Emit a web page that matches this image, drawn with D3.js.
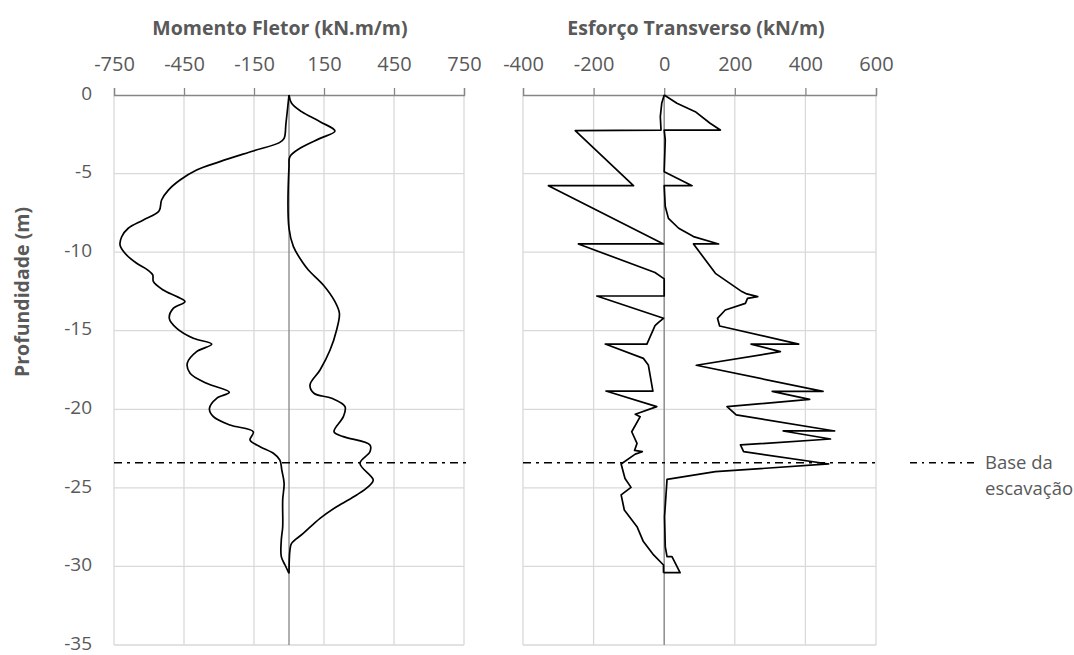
<!DOCTYPE html>
<html>
<head>
<meta charset="utf-8">
<script src="https://cdn.jsdelivr.net/npm/d3@7"></script>
<style>
  body { margin: 0; background: #fff; }
  text { font-family: "Open Sans", "Noto Sans", sans-serif; fill: #595959; }
</style>
</head>
<body>
<div id="chart"></div>
<script>
// depth ticks (m)
const depthTicks = [0, -5, -10, -15, -20, -25, -30, -35];
const momentTicks = [-750, -450, -150, 150, 450, 750];
const shearTicks = [-400, -200, 0, 200, 400, 600];
const baseDepth = -23.4;

// Momento fletor - envolvente minima
const mMinDepth = [0, -1.8, -2.76, -3.03, -3.56, -4.24, -4.77, -5.41, -6.05, -6.68, -7.38, -7.95, -8.48, -9.02, -9.55, -10.07, -10.71, -11.14, -11.45, -11.88, -12.41, -12.83, -13.15, -13.58, -14.21, -14.85, -15.48, -15.85, -16.33, -17.07, -17.71, -18.35, -18.92, -19.3, -19.94, -20.47, -21.0, -21.43, -21.95, -22.38, -22.8, -23.23, -23.86, -24.7, -25.77, -27.47, -28.32, -29.38, -29.91, -30.44];
const mMinValue = [0, -13, -21, -41, -153, -296, -396, -467, -517, -546, -557, -624, -689, -717, -724, -703, -653, -605, -584, -581, -539, -481, -446, -496, -513, -481, -410, -331, -396, -436, -424, -353, -256, -310, -341, -324, -253, -153, -167, -124, -67, -39, -31, -21, -27, -27, -33, -33, -17, 0];

// Momento fletor - envolvente maxima
const mMaxDepth = [0, -0.53, -1.06, -1.7, -2.29, -2.76, -3.39, -3.92, -4.56, -8.48, -9.65, -10.71, -11.14, -12.09, -13.15, -13.89, -14.95, -16.23, -17.5, -18.45, -18.98, -19.3, -19.83, -20.47, -21.43, -21.74, -22.27, -22.7, -23.44, -24.5, -24.92, -25.45, -26.2, -26.94, -27.9, -28.53, -28.96, -30.44];
const mMaxValue = [0, 11, 54, 133, 197, 133, 47, 4, 0, 0, 19, 61, 83, 147, 197, 216, 204, 176, 133, 90, 107, 183, 240, 233, 193, 233, 347, 347, 304, 361, 340, 290, 204, 133, 61, 11, 4, 0];

// Esforco transverso - envolvente minima
const vMinDepth = [0, -0.53, -1.38, -2.23, -2.27, -5.77, -5.77, -9.48, -9.48, -11.3, -11.7, -12.79, -12.79, -14.21, -14.47, -14.68, -15.85, -15.85, -16.76, -17.18, -18.84, -18.84, -19.83, -20.32, -20.47, -21.43, -22.17, -22.62, -22.7, -22.85, -23.48, -24.4, -24.97, -25.45, -26.41, -27.47, -28.42, -29.27, -29.91, -30.4];
const vMinValue = [0, -7, -11, -9, -252, -87, -328, -2, -243, -26, 0, 0, -191, -2, -16, -26, -49, -167, -59, -45, -32, -165, -21, -82, -68, -92, -77, -84, -62, -82, -122, -111, -94, -122, -113, -77, -59, -30, -2, -2];

// Esforco transverso - envolvente maxima
const vMaxDepth = [0, -0.53, -1.06, -1.8, -2.23, -2.23, -2.86, -4.88, -5.77, -5.77, -7.1, -7.85, -8.48, -9.01, -9.48, -9.48, -11.35, -12.51, -12.66, -12.83, -12.94, -13.26, -13.68, -14.21, -14.7, -15.85, -15.85, -16.33, -17.2, -18.86, -18.86, -19.37, -19.83, -20.36, -21.38, -21.38, -21.89, -22.27, -22.7, -23.48, -23.97, -24.46, -26.83, -28.74, -29.38, -29.38, -30.4, -30.4];
const vMaxValue = [0, 36, 88, 130, 159, 0, 3, 0, 79, 0, 3, 12, 41, 83, 154, 83, 145, 220, 234, 265, 236, 230, 173, 151, 157, 381, 246, 329, 91, 450, 306, 412, 178, 204, 483, 337, 471, 216, 225, 466, 145, 8, 1, 3, 8, 22, 45, -2];

const width = 1074, height = 655;
const plotTop = 95, plotBottom = 645;
const gridColor = "#d9d9d9", axisColor = "#868686";

const svg = d3.select("#chart").append("svg")
    .attr("width", width)
    .attr("height", height);

const y = d3.scaleLinear().domain([0, -35]).range([plotTop, plotBottom]);

const panels = [
    { title: "Momento Fletor (kN.m/m)", titleX: 280, domain: [-750, 750], range: [114, 464], ticks: momentTicks,
      series: [[mMinDepth, mMinValue], [mMaxDepth, mMaxValue]], curve: d3.curveCatmullRom.alpha(0.5) },
    { title: "Esforço Transverso (kN/m)", titleX: 696, domain: [-400, 600], range: [523, 876], ticks: shearTicks,
      series: [[vMinDepth, vMinValue], [vMaxDepth, vMaxValue]], curve: d3.curveLinear }
];

panels.forEach((p, i) => {
    const x = d3.scaleLinear().domain(p.domain).range(p.range);
    const g = svg.append("g");

    // grid
    g.append("g").selectAll("line")
        .data(depthTicks.slice(1))
        .enter().append("line")
        .attr("x1", p.range[0]).attr("x2", p.range[1])
        .attr("y1", d => y(d)).attr("y2", d => y(d))
        .attr("stroke", gridColor).attr("stroke-width", 1.3);
    g.append("g").selectAll("line")
        .data(p.ticks)
        .enter().append("line")
        .attr("x1", d => x(d)).attr("x2", d => x(d))
        .attr("y1", plotTop).attr("y2", plotBottom)
        .attr("stroke", gridColor).attr("stroke-width", 1.3);

    // vertical axis at zero
    g.append("line")
        .attr("x1", x(0)).attr("x2", x(0))
        .attr("y1", plotTop).attr("y2", plotBottom)
        .attr("stroke", axisColor).attr("stroke-width", 1.3);

    // top axis
    const axis = g.append("g")
        .attr("transform", `translate(0,${plotTop})`)
        .call(d3.axisTop(x).tickValues(p.ticks).tickSize(7).tickPadding(17).tickFormat(d => String(d)));
    axis.selectAll("path, line").attr("stroke", axisColor).attr("stroke-width", 1.3);
    axis.selectAll("text")
        .attr("fill", "#595959")
        .style("font-size", "20px")
        .style("font-family", '"Open Sans", sans-serif');

    // title
    g.append("text")
        .attr("x", p.titleX).attr("y", 35)
        .attr("text-anchor", "middle")
        .style("font-size", "19.5px")
        .style("font-weight", "bold")
        .text(p.title);

    // base da escavacao
    g.append("line")
        .attr("x1", p.range[0]).attr("x2", p.range[1] + 2)
        .attr("y1", y(baseDepth)).attr("y2", y(baseDepth))
        .attr("stroke", "#000").attr("stroke-width", 1.6)
        .attr("stroke-dasharray", "8,5,3,5");

    // curves
    const line = d3.line()
        .x(d => x(d[1]))
        .y(d => y(d[0]))
        .curve(p.curve);
    p.series.forEach(s => {
        g.append("path")
            .datum(d3.zip(s[0], s[1]))
            .attr("d", line)
            .attr("fill", "none")
            .attr("stroke", "#000")
            .attr("stroke-width", 1.7)
            .attr("stroke-linejoin", "round");
    });

    // depth labels on the left panel only
    if (i === 0) {
        const yAxis = svg.append("g")
            .attr("transform", `translate(${p.range[0]},0)`)
            .call(d3.axisLeft(y).tickValues(depthTicks).tickSize(0).tickPadding(22).tickFormat(d => String(d)));
        yAxis.select(".domain").remove();
        yAxis.selectAll("text")
            .attr("fill", "#595959")
            .attr("dy", "0.22em")
            .style("font-size", "19px")
            .style("font-family", '"Open Sans", sans-serif');
    }
});

// y axis title
svg.append("text")
    .attr("transform", "translate(29,292) rotate(-90)")
    .attr("text-anchor", "middle")
    .style("font-size", "19.5px")
    .style("font-weight", "bold")
    .text("Profundidade (m)");

// legend
const legend = svg.append("g");
legend.append("line")
    .attr("x1", 910).attr("x2", 977)
    .attr("y1", y(baseDepth)).attr("y2", y(baseDepth))
    .attr("stroke", "#000").attr("stroke-width", 1.6)
    .attr("stroke-dasharray", "7,5,2,5");
legend.append("text")
    .attr("x", 985).attr("y", 469)
    .style("font-size", "18.5px")
    .text("Base da");
legend.append("text")
    .attr("x", 985).attr("y", 495)
    .style("font-size", "18.5px")
    .text("escavação");
</script>
</body>
</html>
